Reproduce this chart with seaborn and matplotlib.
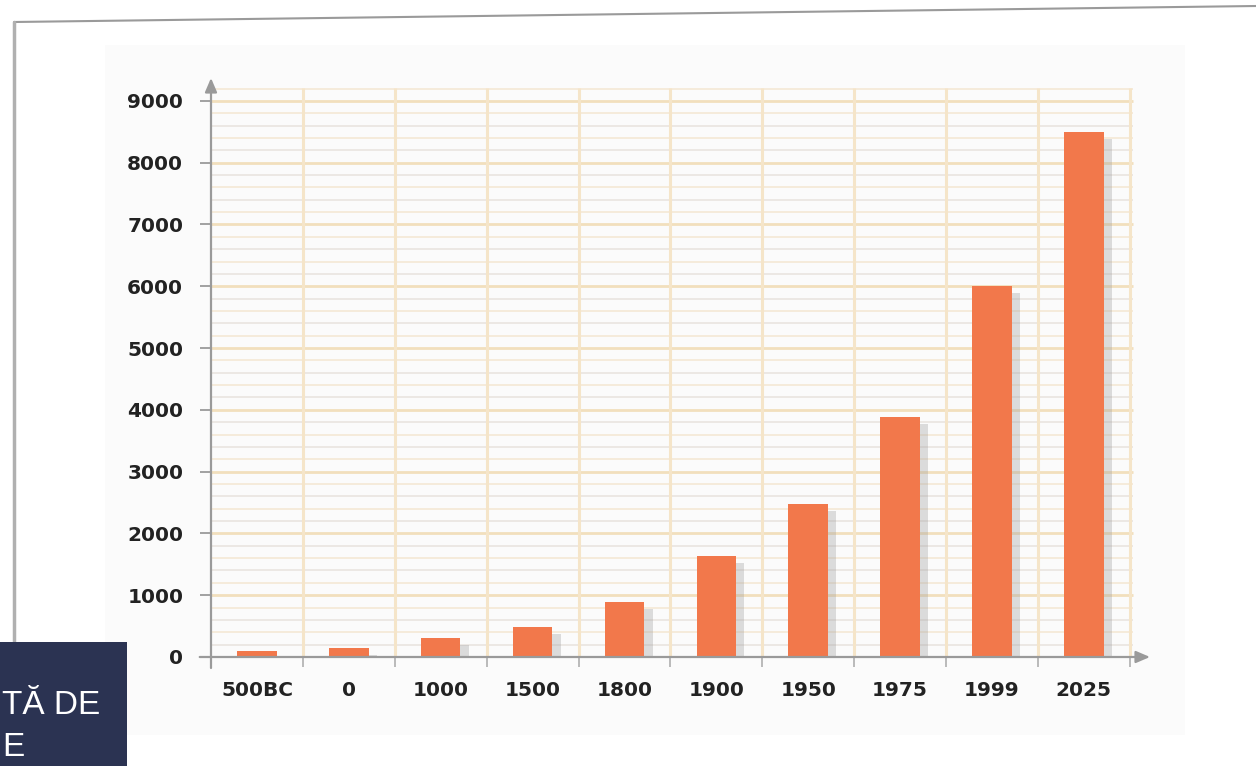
import numpy as np
import pandas as pd
import matplotlib
matplotlib.use("Agg")
import matplotlib.pyplot as plt
import matplotlib.patheffects as pe
from matplotlib.patches import Rectangle
from matplotlib.lines import Line2D
import seaborn as sns

categories = ["500BC", "0", "1000", "1500", "1800", "1900", "1950", "1975", "1999", "2025"]
values = [100, 150, 310, 480, 890, 1630, 2480, 3880, 6000, 8500]
y_ticks = [0, 1000, 2000, 3000, 4000, 5000, 6000, 7000, 8000, 9000]
box_lines = ["TĂ DE", "E"]

df = pd.DataFrame({"year": categories, "pop": values})

sns.set_theme(style="white")
plt.rcParams["font.family"] = ["DejaVu Sans"]

W, H = 1256, 766
fig = plt.figure(figsize=(W / 100, H / 100), dpi=100)
fig.patch.set_facecolor("white")

# faint slide panel
fig.add_artist(Rectangle((105 / W, 1 - 735 / H), 1080 / W, 690 / H,
                         transform=fig.transFigure, facecolor="#fbfbfb",
                         edgecolor="none", zorder=-5))
# outer frame lines
fig.add_artist(Line2D([14 / W, 1.0], [1 - 22 / H, 1 - 6 / H], transform=fig.transFigure,
                      color="#9a9a9a", lw=1.5, zorder=-4))
fig.add_artist(Line2D([14 / W, 14 / W], [1 - 22 / H, 1 - 642 / H], transform=fig.transFigure,
                      color="#b0b0b0", lw=2.5, zorder=-4))

ax = fig.add_axes([211 / W, 1 - 657 / H, (1150 - 211) / W, (657 - 78) / H])
ax.set_facecolor("none")
ax.set_zorder(1)

n = len(categories)
bounds = np.arange(-0.5, n, 1.0)

# grid
minor = np.arange(0, 9201, 200)
for yv in minor:
    if yv % 1000 == 0:
        ax.hlines(yv, -0.5, n - 0.5 + 0.03, color="#f2dfbd", lw=2.0, zorder=0.5)
    else:
        col = "#ebe7e2" if (yv // 200) % 2 == 1 else "#f5ead8"
        ax.hlines(yv, -0.5, n - 0.5 + 0.03, color=col, lw=1.3, zorder=0.4)
ax.vlines(bounds[1:], 0, 9210, color="#f5e5c9", lw=2.2, zorder=0.6)

sns.barplot(data=df, x="year", y="pop", color="#F2784B", width=0.43,
            saturation=1, ax=ax, zorder=3)
for p in ax.patches:
    p.set_path_effects([pe.SimplePatchShadow(offset=(6, -5), shadow_rgbFace="#a0a0a0", alpha=0.35),
                        pe.Normal()])
    p.set_edgecolor("none")

ax.set_xlim(-0.5, n - 0.5 + 0.22)
ax.set_ylim(0, 9370)

ax.set_xlabel("")
ax.set_ylabel("")
for s in ["top", "right", "left", "bottom"]:
    ax.spines[s].set_visible(False)

# axis lines with arrows
ax.annotate("", xy=(0, 1), xycoords="axes fraction", xytext=(0, -0.019),
            textcoords="axes fraction", annotation_clip=False,
            arrowprops=dict(arrowstyle="-|>,head_length=0.7,head_width=0.3",
                            color="#9a9a9a", lw=1.6, shrinkA=0, shrinkB=0))
ax.annotate("", xy=(1, 0), xycoords="axes fraction", xytext=(-0.012, 0),
            textcoords="axes fraction", annotation_clip=False,
            arrowprops=dict(arrowstyle="-|>,head_length=0.7,head_width=0.3",
                            color="#9a9a9a", lw=1.6, shrinkA=0, shrinkB=0))

ax.set_yticks(y_ticks)
ax.set_yticklabels([str(v) for v in y_ticks])
ax.tick_params(axis="y", which="major", left=True, length=8, width=1.3, color="#9a9a9a",
               pad=12, labelsize=14.5, labelcolor="#222222")
for lab in ax.get_yticklabels():
    lab.set_fontweight("bold")

ax.set_xticks(range(n))
ax.set_xticklabels(categories)
ax.tick_params(axis="x", which="major", bottom=False, length=0, pad=17,
               labelsize=14.5, labelcolor="#222222")
for lab in ax.get_xticklabels():
    lab.set_fontweight("bold")
ax.set_xticks(bounds[1:], minor=True)
ax.tick_params(axis="x", which="minor", bottom=True, length=7, width=1.3, color="#b5b5b5")

# dark slide box at bottom-left
fig.add_artist(Rectangle((0, 0), 127 / W, (766 - 642) / H, transform=fig.transFigure,
                         facecolor="#2b3352", edgecolor="none", zorder=5))
fig.text(2 / W, 1 - 705 / H, box_lines[0], color="white", fontsize=24,
         family=["Liberation Sans", "DejaVu Sans"], va="center", ha="left", zorder=6)
fig.text(2 / W, 1 - 748 / H, box_lines[1], color="white", fontsize=24,
         family=["Liberation Sans", "DejaVu Sans"], va="center", ha="left", zorder=6)

fig.savefig("out.png", dpi=100, facecolor="white")
